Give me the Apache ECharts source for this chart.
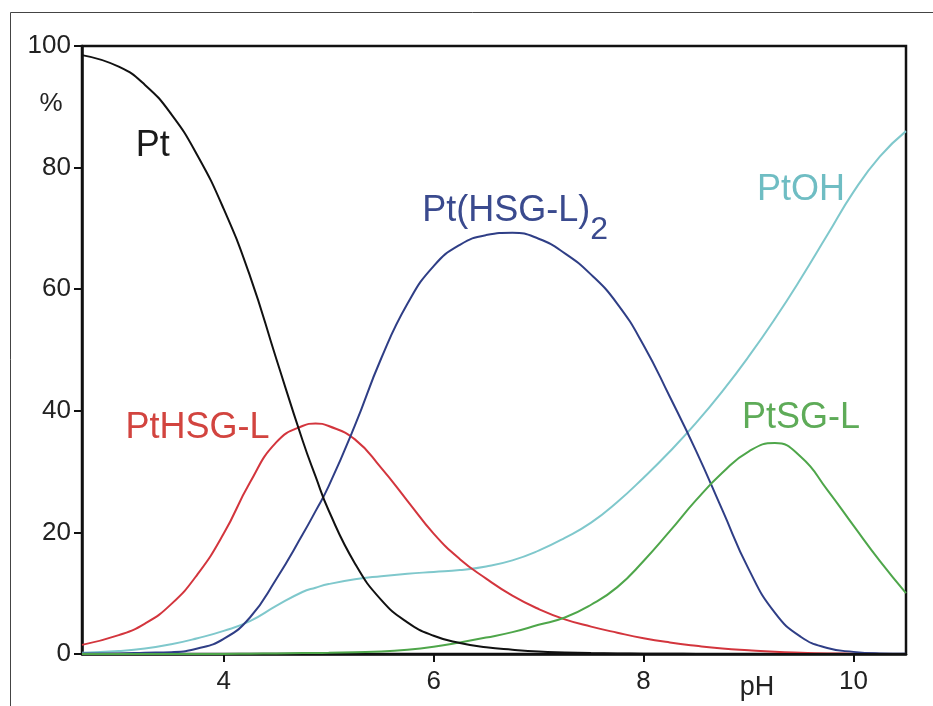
<!DOCTYPE html>
<html><head><meta charset="utf-8">
<script src="https://cdn.jsdelivr.net/npm/echarts@6/dist/echarts.min.js"></script>
<style>html,body{margin:0;padding:0;background:#fff}#c{width:933px;height:706px}</style>
</head><body><div id="c"></div>
<script>
// pH sample points
const ph = [2.65, 3.0, 3.25, 3.5, 3.75, 4.0, 4.25, 4.5, 4.75, 4.875, 5.0, 5.25, 5.5, 5.75, 6.0, 6.25, 6.5, 6.75, 7.0, 7.25, 7.5, 7.75, 8.0, 8.25, 8.5, 8.75, 9.0, 9.25, 9.5, 9.75, 10.0, 10.25, 10.5];
// species distribution (%)
const pt      = [98.5, 96.6, 93.6, 88.8, 82.0, 73.2, 62.2, 48.6, 35.2, 29.2, 23.6, 14.9, 8.9, 5.2, 3.0, 1.8, 1.1, 0.7, 0.4, 0.25, 0.15, 0.1, 0.05, 0.03, 0.02, 0.01, 0, 0, 0, 0, 0, 0, 0];
const ptHSGL  = [1.5, 3.1, 5.0, 8.2, 13.1, 19.8, 28.2, 34.8, 37.5, 37.9, 37.5, 35.3, 30.6, 25.2, 19.8, 15.6, 12.4, 9.6, 7.4, 5.7, 4.5, 3.5, 2.6, 1.9, 1.35, 0.9, 0.6, 0.35, 0.2, 0.1, 0.05, 0.02, 0.01];
const ptHSGL2 = [0.1, 0.1, 0.2, 0.3, 0.9, 2.5, 6.0, 12.3, 19.6, 23.5, 27.6, 37.6, 48.6, 57.6, 63.8, 67.3, 68.9, 69.3, 68.3, 65.9, 62.4, 57.6, 50.8, 42.3, 33.4, 23.7, 14.0, 6.8, 2.8, 1.0, 0.35, 0.1, 0.05];
const ptOH    = [0.2, 0.5, 0.9, 1.6, 2.6, 3.8, 5.4, 7.9, 10.2, 10.9, 11.5, 12.3, 12.8, 13.2, 13.5, 13.8, 14.4, 15.4, 17.0, 19.1, 21.6, 25.0, 29.0, 33.3, 38.0, 43.2, 48.9, 55.1, 61.8, 68.9, 76.0, 81.8, 86.0];
const ptSGL   = [0, 0, 0, 0, 0, 0, 0.05, 0.1, 0.15, 0.17, 0.2, 0.3, 0.4, 0.7, 1.2, 1.9, 2.7, 3.6, 4.8, 6.0, 8.1, 11.0, 15.3, 20.2, 25.3, 29.8, 33.3, 34.7, 32.4, 27.0, 21.1, 15.3, 10.0];
// axis ticks
const xTicks = [4, 6, 8, 10];
const yMin = 0, yMax = 100, yStep = 20;
const xMin = 2.65, xMax = 10.5;

const FONT = '"Liberation Sans", Arial, Helvetica, sans-serif';
const pairs = v => ph.map((x, i) => [x, v[i]]);

function species(name, values, color, textColor, at, label) {
  return {
    name: name, type: 'line', data: pairs(values), smooth: 0.5,
    showSymbol: false, symbol: 'none',
    lineStyle: { color: color, width: 2 },
    itemStyle: { color: color },
    emphasis: { disabled: true },
    markPoint: {
      symbol: 'circle', symbolSize: 0, silent: true, animation: false,
      data: [{ coord: at }],
      label: Object.assign({ show: true, position: 'inside', color: textColor,
        fontFamily: FONT, fontSize: 36 }, label || { formatter: name })
    }
  };
}

const chart = echarts.init(document.getElementById('c'), null, { renderer: 'canvas' });
chart.setOption({
  animation: false,
  backgroundColor: '#fff',
  grid: { left: 82, right: 27, top: 46, bottom: 52, containLabel: false, outerBoundsMode: 'none',
          show: true, borderColor: '#111', borderWidth: 2.5, backgroundColor: 'transparent' },
  xAxis: {
    type: 'value', min: xMin, max: xMax,
    axisLine: { show: true, onZero: false, lineStyle: { color: '#111', width: 2.5 } },
    axisTick: { show: true, customValues: xTicks, length: 8, lineStyle: { color: '#111', width: 2 } },
    axisLabel: { customValues: xTicks, fontSize: 26, color: '#222', margin: 15, fontFamily: FONT },
    splitLine: { show: false }
  },
  yAxis: {
    type: 'value', min: yMin, max: yMax, interval: yStep,
    axisLine: { show: true, lineStyle: { color: '#111', width: 2.5 } },
    axisTick: { show: true, length: 8, lineStyle: { color: '#111', width: 2 } },
    axisLabel: { fontSize: 26, color: '#222', margin: 11, fontFamily: FONT },
    splitLine: { show: false }
  },
  graphic: [
    { type: 'rect', silent: true, z: -1, shape: { x: 10.5, y: 12.5, width: 960, height: 760 },
      style: { fill: 'none', stroke: '#444', lineWidth: 1 } },
    { type: 'text', silent: true, x: 51, y: 104,
      style: { text: '%', font: '26px ' + FONT, fill: '#222', align: 'center', verticalAlign: 'middle' } },
    { type: 'text', silent: true, x: 757, y: 688,
      style: { text: 'pH', font: '27px ' + FONT, fill: '#222', align: 'center', verticalAlign: 'middle' } }
  ],
  series: [
    species('PtOH', ptOH, '#7fc8cc', '#6fbdc3', [9.5, 76.3]),
    species('PtHSG-L', ptHSGL, '#d3353d', '#d2443f', [3.75, 37.2]),
    species('Pt(HSG-L)2', ptHSGL2, '#2f3e86', '#3a4a8e', [6.776, 72.9], {
      formatter: '{a|Pt(HSG-L)}{s|2}',
      rich: {
        a: { fontSize: 36, fontFamily: FONT, color: '#3a4a8e' },
        s: { fontSize: 32, fontFamily: FONT, color: '#3a4a8e', padding: [38, 0, 0, 0] }
      }
    }),
    species('PtSG-L', ptSGL, '#4ea64a', '#5eab58', [9.5, 38.8]),
    species('Pt', pt, '#111111', '#1a1a1a', [3.325, 83.6])
  ]
});
</script>
</body></html>
